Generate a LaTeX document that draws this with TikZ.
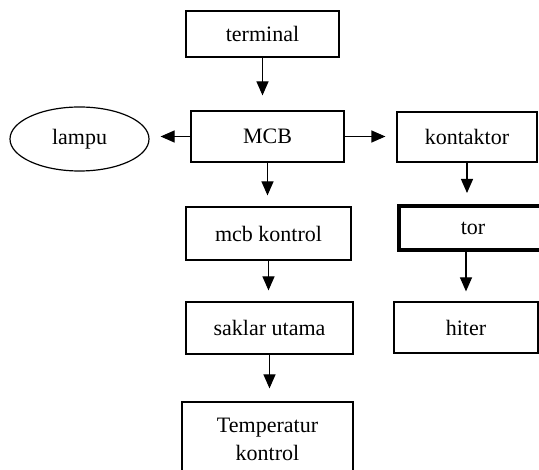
\documentclass[tikz,border=0pt]{standalone}
\usepackage{fontspec}
\setmainfont{Liberation Serif}
\usepackage{tikz}
\usetikzlibrary{shapes.geometric}
\usetikzlibrary{positioning}
\usetikzlibrary{calc}
\usetikzlibrary{arrows.meta}
\tikzset{box/.style={draw,line width=1.2pt,inner sep=0pt,align=center},
flow/.style={line width=1.2pt,-{Triangle[length=14pt,width=12pt]},shorten >=11pt}}

\begin{document}
\begin{tikzpicture}[x=1pt,y=-1pt,font=\fontsize{22}{28}\selectfont]
\useasboundingbox (0,0) rectangle (539,470);
\node[box,minimum width=153pt,minimum height=46pt] (terminal) at (262.5,34) {terminal};
\node[box,minimum width=153pt,minimum height=51pt] (mcb) at (267.5,136.5) {MCB};
\node[box,ellipse,minimum width=139pt,minimum height=64pt] (lampu) at (79.5,139) {lampu};
\node[box,minimum width=140pt,minimum height=50pt] (kontaktor) at (467,137) {kontaktor};
\node[box,minimum width=165pt,minimum height=53pt] (mcbkontrol) at (268.5,233.5) {mcb kontrol};
\node[box,line width=4pt,minimum width=148pt,minimum height=44pt] (tor) at (473,228) {tor};
\node[box,minimum width=167pt,minimum height=52pt] (saklar) at (269.5,328) {saklar utama};
\node[box,minimum width=144pt,minimum height=51pt] (hiter) at (466,327.5) {hiter};
\node[box,minimum width=171pt,minimum height=74pt] (temperatur) at (267.5,439) {Temperatur\\kontrol};
% arrows
\draw[flow,shorten >=15pt] (terminal.south) -- (terminal.south |- mcb.north);
\draw[flow] (mcb.west) -- (mcb.west -| lampu.east);
\draw[flow] (mcb.east) -- (mcb.east -| kontaktor.west);
\draw[flow] (mcb.south) -- (mcb.south |- mcbkontrol.north);
\draw[flow] (kontaktor.south) -- (kontaktor.south |- tor.north);
\draw[flow] (mcbkontrol.south) -- (mcbkontrol.south |- saklar.north);
\draw[flow,shorten >=13pt] (saklar.south) -- (saklar.south |- temperatur.north);
\draw[flow,shorten >=10pt] (tor.south -| hiter.north) -- (hiter.north);
\end{tikzpicture}
\end{document}
